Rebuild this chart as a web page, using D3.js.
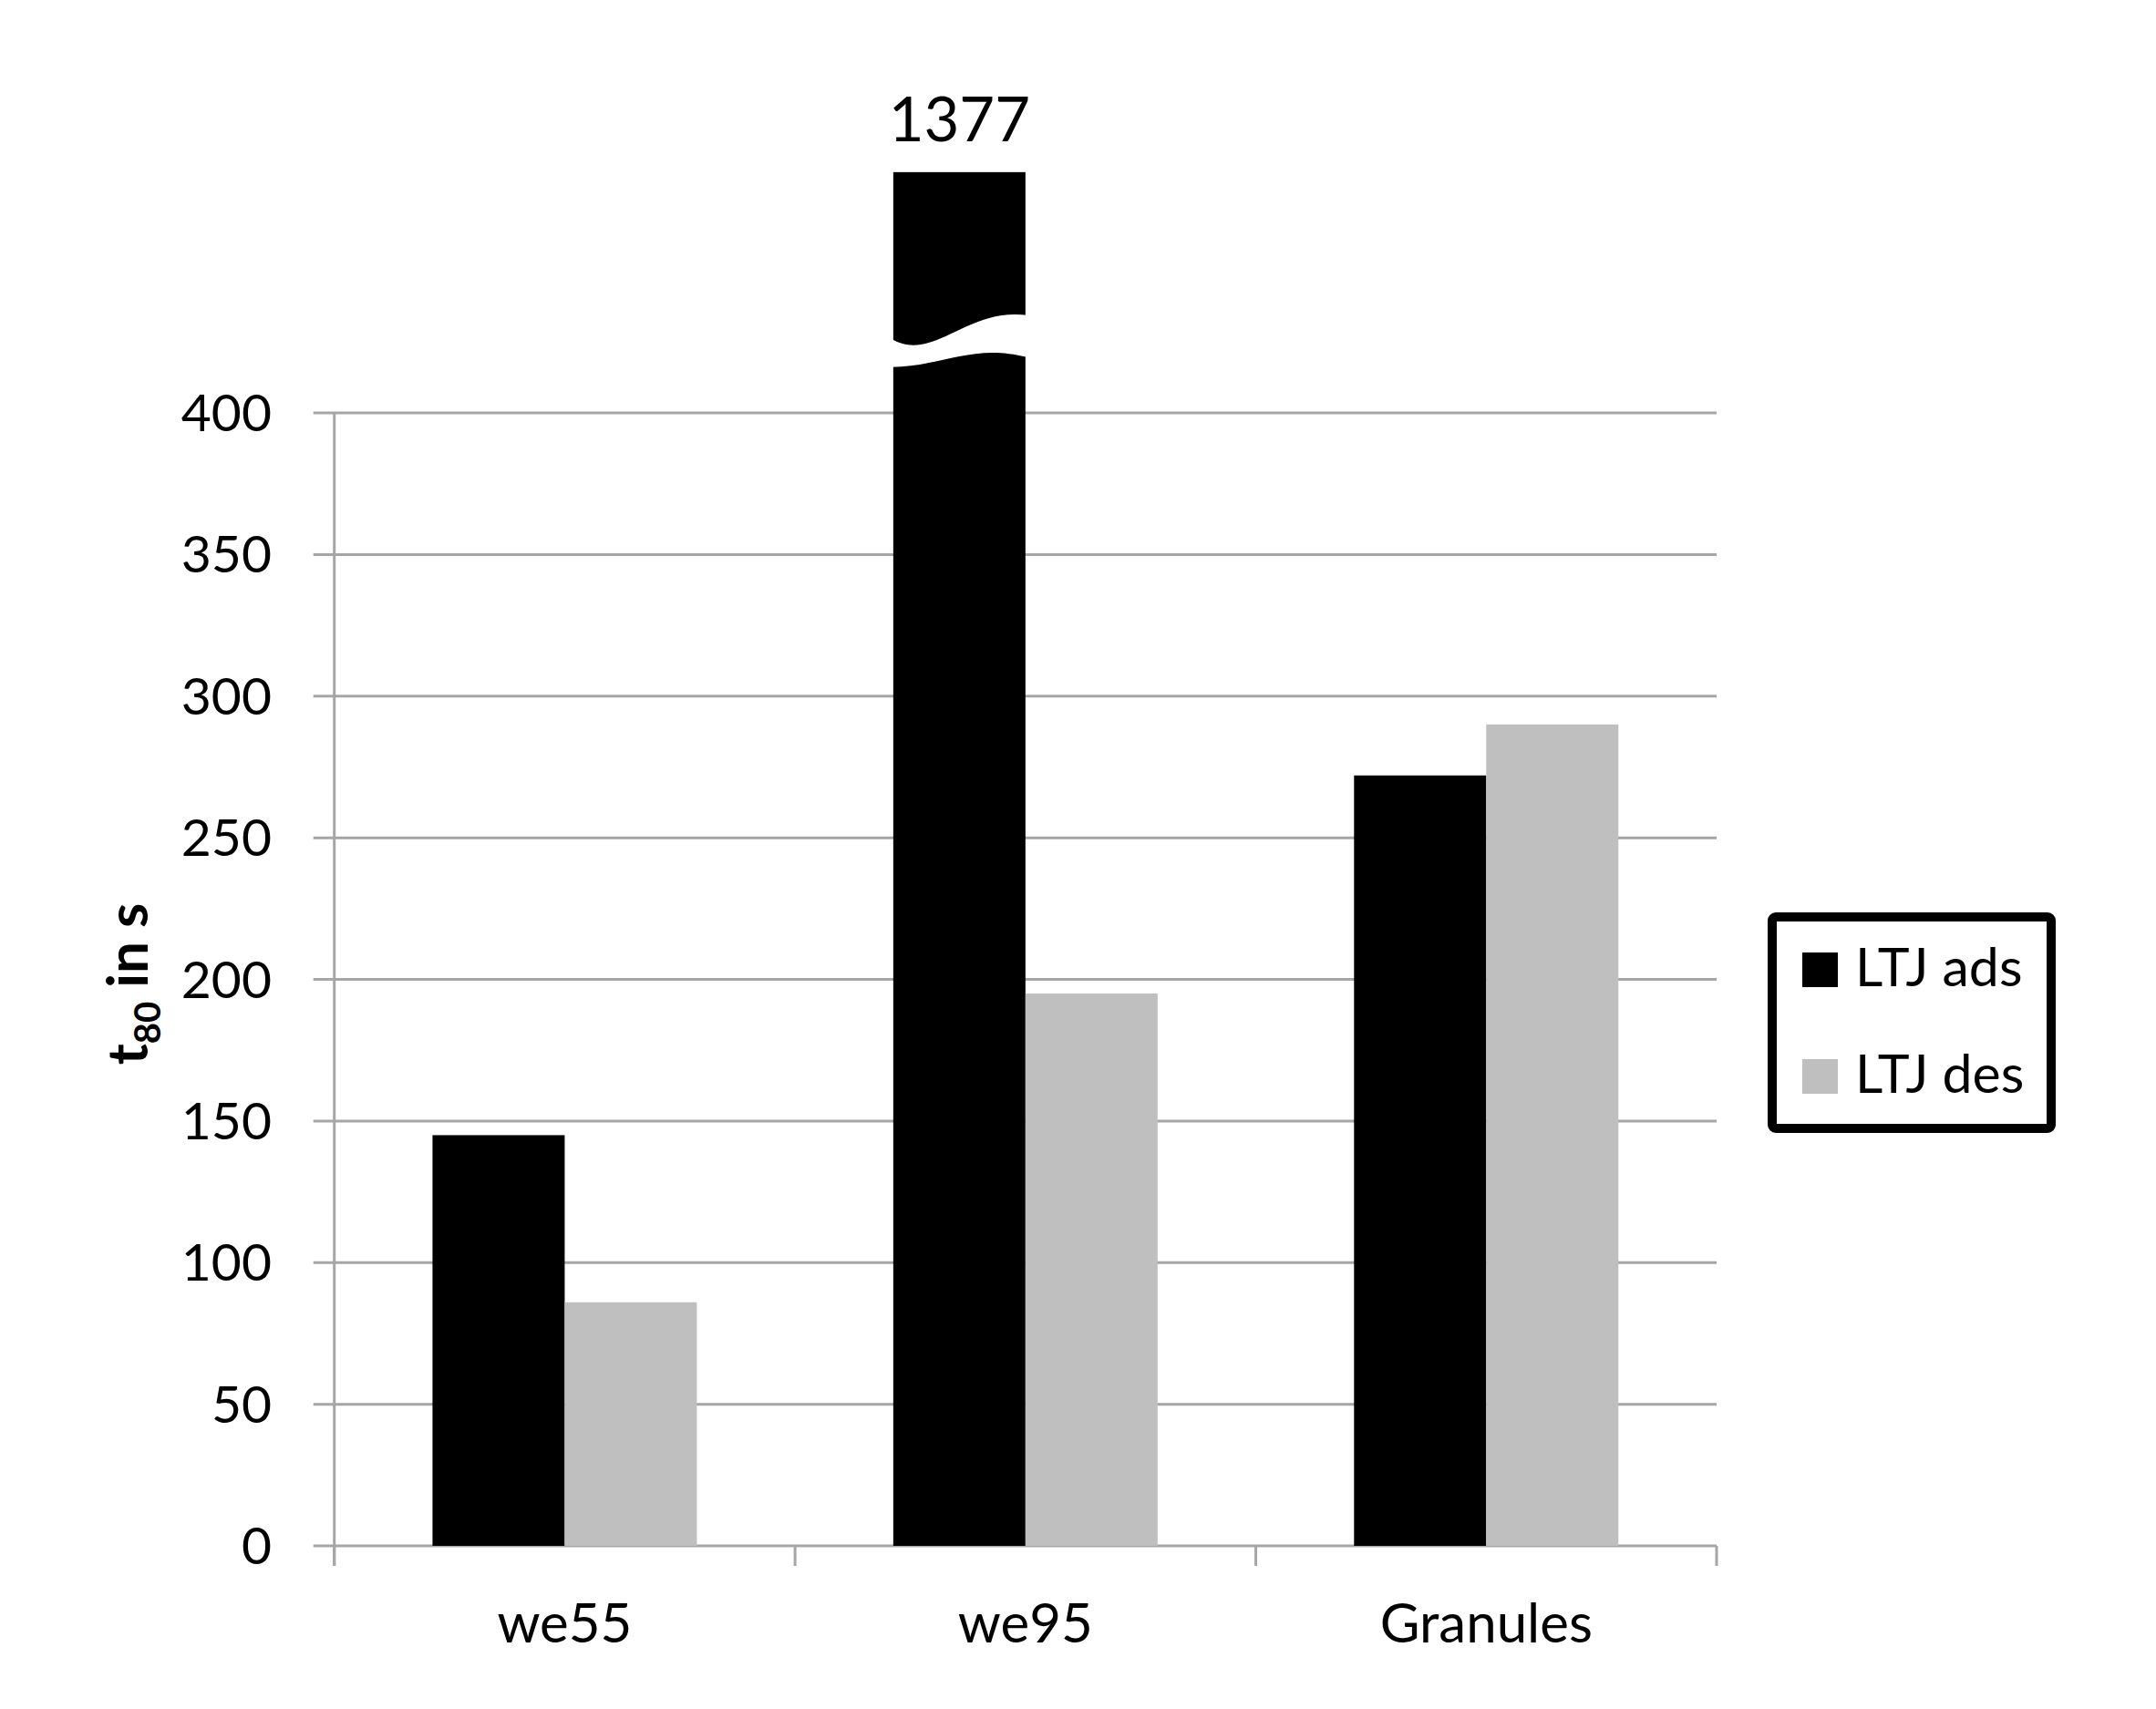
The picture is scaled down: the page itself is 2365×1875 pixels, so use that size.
<!DOCTYPE html>
<html>
<head>
<meta charset="utf-8">
<script src="https://cdn.jsdelivr.net/npm/d3@7"></script>
<style>
  body { margin: 0; background: #fff; }
  text { font-family: Lato, "Open Sans", sans-serif; fill: #000; }
</style>
</head>
<body>
<div id="chart"></div>
<script>
// DATA
var categories = ["we55", "we95", "Granules"];
var seriesNames = ["LTJ ads", "LTJ des"];
var ltjAds = [145, 1377, 272];
var ltjDes = [86, 195, 290];
var yTicks = [0, 50, 100, 150, 200, 250, 300, 350, 400];

// axis top is cut here, anything taller gets a break
var displayCap = 485,
    breakAt = 420;

var colors = ["#000000", "#bfbfbf"];

var width = 2365,
    height = 1875,
    left = 366.7,
    right = 1883,
    bottom = 1696,
    top400 = 453;

var svg = d3.select("#chart").append("svg")
    .attr("width", width)
    .attr("height", height);

var y = d3.scaleLinear().domain([0, 400]).range([bottom, top400]);

var x0 = d3.scaleBand().domain(categories).range([left, right]).paddingInner(0).paddingOuter(0);
var x1 = d3.scaleBand().domain(seriesNames).range([0, x0.bandwidth()]).paddingInner(0).paddingOuter(0.743);

// gridlines + y ticks
svg.append("g").selectAll("line")
    .data(yTicks)
    .enter().append("line")
    .attr("x1", left - 23)
    .attr("x2", right)
    .attr("y1", function(d) { return y(d); })
    .attr("y2", function(d) { return y(d); })
    .attr("stroke", "#a6a6a6")
    .attr("stroke-width", 3);

// y axis labels
svg.append("g").selectAll("text")
    .data(yTicks)
    .enter().append("text")
    .attr("x", 298)
    .attr("y", function(d) { return y(d) + 20; })
    .attr("text-anchor", "end")
    .style("font-size", "57px")
    .text(function(d) { return d; });

// y axis line
svg.append("line")
    .attr("x1", left).attr("x2", left)
    .attr("y1", y(400)).attr("y2", bottom + 22)
    .attr("stroke", "#a6a6a6")
    .attr("stroke-width", 3);

// x ticks at group boundaries
var xb = categories.map(function(c) { return x0(c); }).concat([right]);
svg.append("g").selectAll("line")
    .data(xb)
    .enter().append("line")
    .attr("x1", function(d) { return d; })
    .attr("x2", function(d) { return d; })
    .attr("y1", bottom)
    .attr("y2", bottom + 22)
    .attr("stroke", "#a6a6a6")
    .attr("stroke-width", 3);

// bars
var rows = [];
categories.forEach(function(c, i) {
    rows.push({ cat: c, s: seriesNames[0], v: ltjAds[i], k: 0 });
    rows.push({ cat: c, s: seriesNames[1], v: ltjDes[i], k: 1 });
});

svg.append("g").selectAll("rect")
    .data(rows)
    .enter().append("rect")
    .attr("x", function(d) { return x0(d.cat) + x1(d.s); })
    .attr("width", x1.bandwidth())
    .attr("y", function(d) { return y(Math.min(d.v, displayCap)); })
    .attr("height", function(d) { return bottom - y(Math.min(d.v, displayCap)); })
    .attr("fill", function(d) { return colors[d.k]; });

// broken bars: white wavy gap + value label
var broken = rows.filter(function(d) { return d.v > displayCap; });
broken.forEach(function(d) {
    var bx = x0(d.cat) + x1(d.s),
        w = x1.bandwidth(),
        yc = y(breakAt);
    var p = d3.path();
    // upper piece bottom edge
    p.moveTo(bx - 2, yc - 19);
    p.bezierCurveTo(bx + 0.3 * w, yc + 8, bx + 0.55 * w, yc - 54, bx + w + 2, yc - 45);
    // lower piece top edge (back right to left)
    p.lineTo(bx + w + 2, yc + 1);
    p.bezierCurveTo(bx + 0.6 * w, yc - 14, bx + 0.4 * w, yc + 10, bx - 2, yc + 12);
    p.closePath();
    svg.append("path")
        .attr("d", p.toString())
        .attr("fill", "#fff");

    svg.append("text")
        .attr("x", bx + w / 2)
        .attr("y", 155)
        .attr("text-anchor", "middle")
        .style("font-size", "67px")
        .text(d.v);
});

// category labels
svg.append("g").selectAll("text")
    .data(categories)
    .enter().append("text")
    .attr("x", function(d) { return x0(d) + x0.bandwidth() / 2; })
    .attr("y", 1802)
    .attr("text-anchor", "middle")
    .style("font-size", "60px")
    .text(function(d) { return d; });

// y axis title
var yt = svg.append("text")
    .attr("transform", "translate(162," + (y(200) + 5) + ") rotate(-90)")
    .attr("text-anchor", "middle")
    .style("font-size", "62px")
    .style("font-weight", "bold");
yt.append("tspan").text("t");
yt.append("tspan").attr("dy", 14).style("font-size", "40px").text("80");
yt.append("tspan").attr("dy", -14).text(" in s");

// legend
var lg = svg.append("g");
lg.append("rect")
    .attr("x", 1944).attr("y", 1006)
    .attr("width", 306).attr("height", 232)
    .attr("rx", 4)
    .attr("fill", "#fff")
    .attr("stroke", "#000")
    .attr("stroke-width", 10);

var li = lg.selectAll(".item")
    .data(seriesNames)
    .enter().append("g")
    .attr("class", "item")
    .attr("transform", function(d, i) { return "translate(0," + (i * 117) + ")"; });

li.append("rect")
    .attr("x", 1977).attr("y", 1045)
    .attr("width", 39).attr("height", 38)
    .attr("fill", function(d, i) { return colors[i]; });

li.append("text")
    .attr("x", 2035).attr("y", 1082)
    .style("font-size", "59px")
    .text(function(d) { return d; });
</script>
</body>
</html>
